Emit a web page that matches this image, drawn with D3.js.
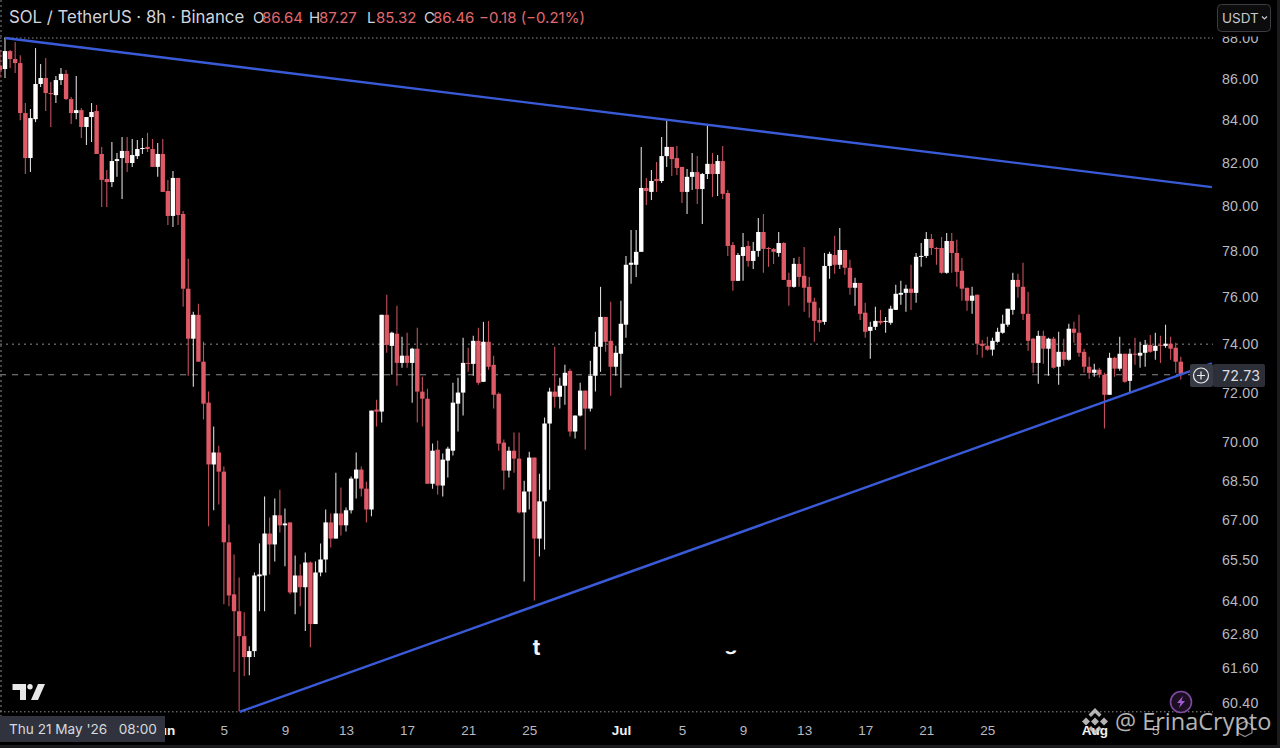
<!DOCTYPE html>
<html>
<head>
<meta charset="utf-8">
<script src="https://cdn.jsdelivr.net/npm/d3@7"></script>
<style>
  html, body { margin: 0; padding: 0; background: #000; overflow: hidden; }
  svg { display: block; font-family: "Inter", "Roboto", sans-serif; }
  .axis path, .axis line { display: none; }
  .axis--y text { fill: #b8bac2; font-size: 14.2px; letter-spacing: 0.2px; }
  .axis--x text { fill: #b8bac2; font-size: 13.5px; }
  .axis--x text.month { fill: #f0f0f0; font-weight: 700; }
</style>
</head>
<body>
<svg width="1280" height="748"></svg>
<script>
// 8h candles, first one is Thu 21 May 2026 08:00
var firstBar = Date.UTC(2026, 4, 21, 8);
var barMs = 8 * 3600 * 1000;

var opens = [
  86.62,86.47,87.35,86.96,86.76,84.34,82.22,84.05,85.74,86.03,
  85.30,85.20,85.93,86.23,85.01,84.34,84.48,83.68,84.15,84.44,
  82.41,81.25,81.11,82.08,82.22,82.55,81.99,82.31,82.64,82.74,
  82.64,81.81,82.41,80.70,79.57,81.30,79.66,76.36,74.23,75.24,
  73.27,71.59,69.13,69.60,68.85,66.15,64.23,63.62,62.73,61.99,
  62.20,64.89,64.92,66.48,66.07,67.17,66.79,66.90,64.30,64.92,
  64.49,65.40,63.16,65.03,65.51,66.90,66.29,67.24,66.79,67.36,
  68.58,68.93,68.19,67.39,71.31,71.23,75.24,73.93,74.44,73.22,
  73.52,73.22,73.81,72.04,71.75,68.38,69.71,68.31,69.28,69.67,
  71.55,72.00,73.22,73.18,74.14,72.44,74.10,73.14,71.95,69.99,
  68.89,69.67,69.36,67.28,68.08,69.40,66.29,67.70,70.75,72.04,
  71.83,72.28,72.89,70.43,71.07,72.08,71.35,72.69,73.89,75.15,
  74.14,73.06,73.60,74.82,77.40,77.40,77.97,80.84,80.66,81.25,
  81.16,82.31,82.74,82.22,81.81,80.66,81.35,81.57,80.79,81.48,
  81.95,81.48,82.08,80.61,78.27,76.70,77.79,78.23,77.57,78.01,
  78.85,78.14,78.10,77.92,78.36,76.74,76.44,77.44,76.92,76.44,
  75.80,75.02,74.94,77.35,77.83,77.40,78.05,77.27,76.40,76.61,
  75.33,74.56,74.73,74.98,74.94,74.90,75.45,76.10,76.18,76.36,
  76.18,77.75,77.79,78.54,78.14,78.14,77.05,78.45,77.92,77.14,
  76.40,75.84,76.10,74.02,73.93,73.77,74.10,74.48,74.82,75.45,
  76.74,76.44,75.28,74.23,73.22,74.35,73.81,74.23,73.06,73.68,
  73.35,74.65,74.48,73.68,73.06,72.81,72.94,72.73,71.91,73.43,
  72.98,73.60,72.48,73.60,73.52,73.64,73.97,73.72,73.97,73.93,
  74.02,73.85,73.27
];
var highs = [
  87.40,88.00,87.40,87.80,87.15,84.82,84.53,87.50,86.71,87.01,
  85.84,86.13,86.52,86.42,85.11,86.13,84.58,84.15,84.82,84.72,
  82.74,81.67,82.97,82.45,83.21,83.21,83.11,83.06,83.16,83.40,
  83.11,82.92,83.11,81.21,81.62,81.30,79.79,77.66,75.37,75.71,
  74.10,72.04,70.63,69.87,69.05,66.82,65.70,64.85,63.58,62.37,
  65.03,66.11,67.89,67.09,67.81,68.15,67.43,66.90,65.66,65.33,
  65.77,65.44,65.44,66.11,67.39,67.24,68.81,68.23,67.47,68.66,
  69.60,69.05,68.46,71.27,71.71,75.24,76.10,74.52,75.63,74.31,
  74.48,73.85,74.69,72.65,72.16,69.95,70.07,69.56,69.83,72.40,
  72.61,74.27,73.85,74.35,74.69,74.94,74.98,73.52,72.00,70.11,
  69.83,70.39,70.39,68.50,69.63,69.40,68.77,70.99,72.20,73.89,
  72.61,73.14,72.98,71.07,72.40,72.08,73.31,74.52,76.44,75.15,
  75.80,73.93,75.84,77.79,78.94,78.94,82.74,81.30,81.67,82.04,
  83.21,84.00,82.74,82.78,81.81,81.71,82.45,82.31,81.53,83.77,
  82.45,82.36,82.78,80.75,78.41,77.92,78.81,78.45,78.41,79.48,
  79.66,78.18,78.14,78.85,78.41,77.05,77.70,77.75,78.18,76.87,
  75.97,75.54,77.92,77.97,78.68,79.03,78.05,77.62,76.83,76.61,
  75.76,74.94,75.58,75.45,75.15,75.63,76.53,76.70,76.53,77.40,
  77.92,78.36,78.85,78.76,78.18,78.63,78.81,78.81,78.50,77.70,
  76.40,76.44,76.10,74.18,74.31,74.27,74.69,75.24,75.50,77.05,
  77.01,77.49,76.23,74.27,74.56,74.56,74.27,74.31,74.52,74.23,
  74.86,74.94,75.24,73.81,73.47,73.18,73.02,72.81,73.64,73.47,
  74.31,73.60,73.81,74.27,74.10,74.18,74.39,74.48,74.35,74.82,
  74.31,74.06,73.47
];
var lows = [
  86.03,86.03,86.52,86.27,84.00,81.48,81.57,83.91,85.59,84.44,
  83.68,84.82,85.69,84.96,83.82,84.05,83.16,82.83,82.97,82.41,
  79.97,79.97,80.88,81.35,80.34,81.57,81.81,82.17,82.41,82.50,
  81.81,81.35,80.66,79.16,79.07,79.16,75.58,72.69,72.24,73.27,
  70.91,66.75,67.36,67.58,63.87,63.80,61.47,60.12,61.33,61.36,
  61.99,63.62,63.62,64.96,65.44,66.52,65.26,64.23,63.51,63.80,
  62.91,62.34,63.16,64.89,65.03,65.96,66.29,66.41,66.56,67.24,
  67.81,67.89,66.90,67.13,70.63,70.79,73.64,72.73,72.28,73.02,
  73.02,71.59,70.79,70.63,68.38,68.19,67.96,67.89,68.62,69.48,
  70.43,71.07,72.85,72.69,72.32,72.44,72.94,71.35,69.67,68.15,
  68.62,68.81,67.24,64.70,67.39,64.01,65.62,65.88,68.15,71.39,
  71.35,71.51,70.23,70.15,71.03,69.71,71.23,72.04,72.85,73.68,
  71.87,72.69,72.20,74.27,76.57,76.87,77.97,80.06,80.29,80.66,
  81.07,81.81,81.39,81.44,80.15,79.66,80.75,80.11,79.21,81.25,
  80.43,80.47,80.34,77.79,76.27,76.70,76.70,77.31,77.22,77.75,
  77.05,77.31,77.44,77.75,76.74,75.63,76.40,76.44,75.37,75.11,
  74.10,74.52,74.82,76.79,77.01,77.22,76.96,76.10,75.63,75.02,
  74.27,73.39,74.60,74.82,74.48,74.82,75.45,75.67,75.37,75.45,
  75.76,77.31,77.70,77.83,77.40,77.01,77.01,77.05,76.44,75.84,
  75.41,75.28,73.56,73.43,73.72,73.52,74.06,74.44,74.73,75.24,
  75.97,75.02,73.72,72.81,72.36,73.18,72.69,72.98,72.32,73.10,
  73.31,74.06,73.47,72.81,72.57,72.65,72.61,70.55,71.91,72.65,
  72.89,72.40,72.00,73.14,73.02,73.06,73.64,73.35,73.22,73.85,
  73.35,72.81,72.53
];
var closes = [
  86.42,87.35,86.96,86.76,84.34,82.22,84.10,85.74,86.03,85.30,
  85.25,85.93,86.23,85.01,84.34,84.48,83.68,84.15,84.39,82.41,
  81.21,81.11,82.08,82.17,82.55,81.99,82.36,82.64,82.69,82.64,
  81.81,82.41,80.66,79.57,81.30,79.61,76.36,74.23,75.24,73.27,
  71.55,69.13,69.60,68.85,66.15,64.19,63.62,62.73,61.99,62.20,
  64.92,64.96,66.48,66.07,67.17,66.79,66.86,64.30,64.92,64.49,
  65.40,63.16,65.03,65.51,66.90,66.29,67.24,66.79,67.36,68.58,
  68.93,68.19,67.39,71.27,71.23,75.24,73.97,74.48,73.22,73.52,
  73.22,73.81,72.04,71.75,68.38,69.67,68.31,69.32,69.75,71.59,
  72.00,73.22,73.18,74.14,72.40,74.10,73.06,71.91,69.95,68.89,
  69.67,69.36,67.28,68.08,69.40,66.29,67.70,70.75,72.04,71.83,
  72.28,72.81,70.43,71.07,72.08,71.35,72.69,73.89,75.15,74.10,
  73.06,73.64,74.86,77.40,77.49,77.97,80.84,80.70,81.16,81.16,
  82.31,82.74,82.17,81.76,80.66,81.35,81.57,80.79,81.48,81.95,
  81.48,82.08,80.57,78.23,76.70,77.83,78.18,77.57,78.01,78.85,
  78.10,78.10,77.97,78.36,76.74,76.44,77.44,76.87,76.40,75.76,
  74.98,74.90,77.35,77.88,77.40,78.05,77.27,76.40,76.61,75.28,
  74.52,74.73,74.98,74.90,74.98,75.50,76.14,76.18,76.36,76.18,
  77.75,77.79,78.54,78.14,78.10,77.05,78.45,77.92,77.09,76.36,
  75.84,76.06,74.02,73.93,73.77,74.14,74.52,74.86,75.50,76.74,
  76.44,75.28,74.14,73.22,74.35,73.81,74.23,73.02,73.68,73.35,
  74.65,74.48,73.64,73.06,72.81,72.94,72.73,71.91,73.43,72.98,
  73.60,72.44,73.60,73.56,73.64,73.97,73.68,73.93,73.93,74.02,
  73.81,73.27,72.73
];

var priceTicks = [88, 86, 84, 82, 80, 78, 76, 74, 72, 70, 68.5, 67, 65.5, 64, 62.8, 61.6, 60.4];
var dateTicks = ["2026-06-01", "2026-06-05", "2026-06-09", "2026-06-13", "2026-06-17", "2026-06-21", "2026-06-25",
  "2026-07-01", "2026-07-05", "2026-07-09", "2026-07-13", "2026-07-17", "2026-07-21", "2026-07-25",
  "2026-08-01", "2026-08-05"];

// trend lines as [bar number, price]
var upperTrend = [[1, 88.0], [238.1, 80.88]];
var lowerTrend = [[47.1, 60.1], [238.1, 73.2]];

var lastPrice = 72.73;
var highLine = 88.0, midLine = 74.0, lowLine = 60.1;

var legend = [
  { x: 253, t: "O", c: "#d1d4dc" }, { x: 262, t: "86.64", c: "#e0696f" },
  { x: 309, t: "H", c: "#d1d4dc" }, { x: 319, t: "87.27", c: "#e0696f" },
  { x: 367, t: "L", c: "#d1d4dc" }, { x: 376, t: "85.32", c: "#e0696f" },
  { x: 424, t: "C", c: "#d1d4dc" }, { x: 433, t: "86.46", c: "#e0696f" },
  { x: 479, t: "\u22120.18 (\u22120.21%)", c: "#e0696f" }
];

function barTime(i) { return new Date(firstBar + i * barMs); }

var svg = d3.select("svg");

var x = d3.scaleUtc().domain([barTime(0), barTime(232)]).range([-0.1, 1180.8]);
var y = d3.scaleLog().domain([88, 60.4]).range([38, 703]);

svg.append("rect").attr("width", 1280).attr("height", 748).attr("fill", "#000");
svg.append("rect").attr("x", 1277).attr("width", 3).attr("height", 748).attr("fill", "#1b1b1d");
svg.append("rect").attr("y", 745).attr("width", 1280).attr("height", 3).attr("fill", "#1b1b1d");

// crosshair at the left edge
svg.append("line")
  .attr("x1", 1).attr("x2", 1).attr("y1", 0).attr("y2", 716)
  .attr("stroke", "#8a8a8a").attr("stroke-dasharray", "2 3");

// high / low / mid levels and last price
var levels = [
  { p: highLine, dash: "1.5 2.5" },
  { p: midLine, dash: "2 4" },
  { p: lowLine, dash: "1.5 2.5" },
  { p: lastPrice, dash: "6 6" }
];
svg.selectAll(".level")
  .data(levels)
  .enter().append("line")
  .attr("class", "level")
  .attr("x1", 0).attr("x2", 1213)
  .attr("y1", function (d) { return y(d.p); })
  .attr("y2", function (d) { return y(d.p); })
  .attr("stroke", "#8c8c8c")
  .attr("stroke-dasharray", function (d) { return d.dash; });

var bars = d3.range(opens.length);
var isUp = function (i) { return closes[i] >= opens[i]; };

svg.selectAll(".wick")
  .data(bars)
  .enter().append("line")
  .attr("class", "wick")
  .attr("x1", function (i) { return x(barTime(i)); })
  .attr("x2", function (i) { return x(barTime(i)); })
  .attr("y1", function (i) { return y(highs[i]); })
  .attr("y2", function (i) { return y(lows[i]); })
  .attr("stroke-width", 1.1)
  .attr("stroke", function (i) { return isUp(i) ? "#d8d8d8" : "#c4505c"; });

svg.selectAll(".candle")
  .data(bars)
  .enter().append("rect")
  .attr("class", "candle")
  .attr("x", function (i) { return x(barTime(i)) - 2.2; })
  .attr("width", 4.4)
  .attr("y", function (i) { return y(Math.max(opens[i], closes[i])); })
  .attr("height", function (i) { return Math.max(1, Math.abs(y(opens[i]) - y(closes[i]))); })
  .attr("fill", function (i) { return isUp(i) ? "#ffffff" : "#dd5a66"; });

var trendLine = d3.line()
  .x(function (d) { return x(barTime(d[0])); })
  .y(function (d) { return y(d[1]); });

svg.selectAll(".trend")
  .data([upperTrend, lowerTrend])
  .enter().append("path")
  .attr("class", "trend")
  .attr("d", trendLine)
  .attr("fill", "none")
  .attr("stroke", "#3a5bd8")
  .attr("stroke-width", 2.4);

// price axis
svg.append("g")
  .attr("class", "axis axis--y")
  .attr("transform", "translate(1214,0)")
  .call(d3.axisRight(y).tickValues(priceTicks).tickFormat(d3.format(".2f")).tickSize(0).tickPadding(8));

// time axis
svg.append("g")
  .attr("class", "axis axis--x")
  .attr("transform", "translate(0,722)")
  .call(d3.axisBottom(x)
    .tickValues(dateTicks.map(function (d) { return new Date(d + "T00:00:00Z"); }))
    .tickFormat(function (d) { return d.getUTCDate() === 1 ? d3.utcFormat("%b")(d) : d3.utcFormat("%-d")(d); })
    .tickSize(0).tickPadding(3))
  .selectAll("text")
  .classed("month", function (d) { return d.getUTCDate() === 1; });

// header
svg.append("text")
  .attr("x", 9).attr("y", 23)
  .attr("fill", "#d1d4dc").attr("font-size", 16.8)
  .text("SOL / TetherUS \u00b7 8h \u00b7 Binance");

svg.selectAll(".ohlc")
  .data(legend)
  .enter().append("text")
  .attr("class", "ohlc")
  .attr("x", function (d) { return d.x; })
  .attr("y", 22.5)
  .attr("font-size", 15)
  .attr("fill", function (d) { return d.c; })
  .text(function (d) { return d.t; });

// currency button, sits over the 88.00 label
svg.append("rect")
  .attr("x", 1215).attr("y", 0).attr("width", 60).attr("height", 36.5)
  .attr("fill", "#000");
svg.append("rect")
  .attr("x", 1217.5).attr("y", 4.5).attr("width", 53).attr("height", 27).attr("rx", 4)
  .attr("fill", "#0c0c0c").attr("stroke", "#3c3d42");
svg.append("text")
  .attr("x", 1222).attr("y", 22.5).attr("fill", "#c8cad0").attr("font-size", 13.5)
  .text("USDT");
svg.append("path")
  .attr("d", "M1262 16.5l2.5 2.5 2.5-2.5")
  .attr("fill", "none").attr("stroke", "#c8cad0").attr("stroke-width", 1.2);

// last price tag and plus button
svg.append("rect")
  .attr("x", 1190).attr("y", 364).attr("width", 23).attr("height", 23).attr("rx", 2)
  .attr("fill", "#363a45");
svg.append("rect")
  .attr("x", 1213).attr("y", 364).attr("width", 52).attr("height", 23).attr("rx", 2)
  .attr("fill", "#2c2f38");
svg.append("circle")
  .attr("cx", 1201).attr("cy", 375.5).attr("r", 7.5)
  .attr("fill", "none").attr("stroke", "#eeeeee").attr("stroke-width", 1.2);
svg.append("path")
  .attr("d", "M1197 375.5h8M1201 371.5v8")
  .attr("stroke", "#eeeeee").attr("stroke-width", 1.2);
svg.append("text")
  .attr("x", 1222).attr("y", 380.5)
  .attr("fill", "#dcdde1").attr("font-size", 14.2).attr("letter-spacing", 0.2)
  .text(d3.format(".2f")(lastPrice));

// tradingview logo
svg.append("path")
  .attr("d", "M12.5 684H26V700H20V690H12.5Z M38 684H45L38 700H31Z")
  .attr("fill", "#e8e8e8");
svg.append("circle").attr("cx", 30).attr("cy", 686.7).attr("r", 2.7).attr("fill", "#e8e8e8");

// leftovers of erased text
svg.append("text")
  .attr("x", 536.5).attr("y", 655).attr("text-anchor", "middle")
  .attr("fill", "#f4f4f4").attr("font-size", 21).attr("font-weight", 700)
  .text("t");
svg.append("clipPath").attr("id", "gclip")
  .append("rect").attr("x", 720).attr("y", 650.5).attr("width", 24).attr("height", 8);
svg.append("text")
  .attr("x", 731).attr("y", 650).attr("text-anchor", "middle")
  .attr("clip-path", "url(#gclip)")
  .attr("fill", "#f4f4f4").attr("font-size", 21).attr("font-weight", 700)
  .text("g");

// crosshair date label
svg.append("rect")
  .attr("x", 0).attr("y", 716).attr("width", 165).attr("height", 26)
  .attr("fill", "#30333d");
svg.append("text")
  .attr("x", 9).attr("y", 734)
  .attr("fill", "#d8d9de").attr("font-size", 13.6)
  .attr("xml:space", "preserve")
  .style("white-space", "pre")
  .text("Thu 21 May '26   08:00");

// lightning badge
svg.append("circle")
  .attr("cx", 1181).attr("cy", 702).attr("r", 10.5)
  .attr("fill", "#1c0f24").attr("stroke", "#7d4a9e").attr("stroke-width", 1.6);
svg.append("path")
  .attr("d", "M1183 696l-6 7h3.5l-1.5 5 6-7h-3.5z")
  .attr("fill", "#a45cd0");

// hexagon at the bottom right
svg.append("path")
  .attr("d", "M1238 725l7-3.5 7 3.5v8l-7 3.5-7-3.5z")
  .attr("fill", "none").attr("stroke", "#8d8d8d").attr("stroke-width", 1.2);

// watermark
var wm = svg.append("g").attr("fill", "#d4d4d4").attr("opacity", 0.85);
wm.append("path")
  .attr("d", "M1095 708l6.5 6.5-2.5 2.5-4-4-4 4-2.5-2.5z M1095 735l6.5-6.5-2.5-2.5-4 4-4-4-2.5 2.5z M1095 717.5l4 4-4 4-4-4z M1086 717.5l4 4-4 4-4-4z M1104 717.5l4 4-4 4-4-4z");
wm.append("text")
  .attr("x", 1115).attr("y", 729.5)
  .attr("font-size", 23.5).attr("font-family", "Open Sans")
  .text("@ ErinaCrypto");
</script>
</body>
</html>
